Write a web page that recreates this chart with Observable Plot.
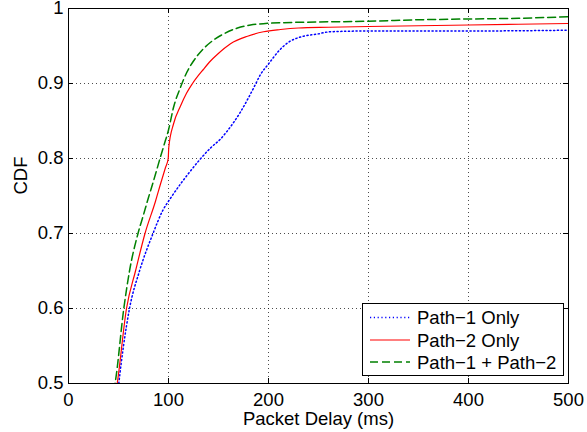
<!DOCTYPE html>
<html>
<head>
<meta charset="utf-8">
<script src="https://cdn.jsdelivr.net/npm/d3@7"></script>
<script src="https://cdn.jsdelivr.net/npm/@observablehq/plot@0.6"></script>
<style>
  body { margin: 0; background: #fff; }
  #wrap { position: relative; width: 587px; height: 432px; font-family: "Liberation Sans", Arial, sans-serif; }
  #legend { position: absolute; left: 362px; top: 303px; width: 202px; height: 73px; border: 1px solid #000; background: #fff; box-sizing: border-box; }
</style>
</head>
<body>
<div id="wrap"></div>
<script>
const seriesNames = ["Path\u22121 Only", "Path\u22122 Only", "Path\u22121 + Path\u22122"];
const seriesColors = ["#0000ff", "#ff0000", "#008000"];
const seriesDash = ["1.2,2.6", null, "8,4"];

const path1X = [49.5, 50.3, 55, 61, 71, 84.5, 94, 102, 112, 120, 131, 142, 152, 164, 172, 180, 187, 192, 200, 210, 220, 232, 249, 262, 300, 400, 500];
const path1Y = [0.49, 0.5, 0.55, 0.6, 0.65, 0.7, 0.73, 0.747, 0.766, 0.78, 0.798, 0.814, 0.826, 0.846, 0.862, 0.881, 0.899, 0.912, 0.926, 0.943, 0.955, 0.962, 0.966, 0.969, 0.970, 0.970, 0.971];

const path2X = [47.5, 48.7, 58, 67, 76.5, 87, 92, 97, 99.7, 100.3, 105, 112, 118, 124, 135, 142, 149, 162, 179, 195, 212, 230, 260, 300, 400, 500];
const path2Y = [0.49, 0.5, 0.6, 0.65, 0.7, 0.743, 0.766, 0.788, 0.8, 0.815, 0.846, 0.870, 0.887, 0.900, 0.919, 0.930, 0.939, 0.953, 0.963, 0.969, 0.972, 0.974, 0.975, 0.976, 0.978, 0.980];

const bothX = [45, 46.5, 55.3, 61, 69.5, 75, 80, 85, 91.5, 96, 100, 105, 112, 118, 125, 134, 144, 155, 169, 182, 197, 212, 250, 300, 350, 400, 450, 500];
const bothY = [0.49, 0.5, 0.6, 0.65, 0.7, 0.725, 0.748, 0.77, 0.8, 0.82, 0.838, 0.868, 0.895, 0.914, 0.93, 0.945, 0.957, 0.966, 0.974, 0.978, 0.980, 0.981, 0.982, 0.983, 0.985, 0.986, 0.987, 0.989];

const xTicks = [0, 100, 200, 300, 400, 500];
const yTicks = [0.5, 0.6, 0.7, 0.8, 0.9, 1];
const xLabel = "Packet Delay (ms)";
const yLabel = "CDF";

const toRows = (xs, ys) => xs.map((x, i) => ({x, y: ys[i]}));
const series = [toRows(path1X, path1Y), toRows(path2X, path2Y), toRows(bothX, bothY)];

const W = 587, H = 432, mL = 68, mR = 19, mT = 8, mB = 49;
const innerW = W - mL - mR, innerH = H - mT - mB;
const tick = 5;
const FS = 18.5;
const FONT = "'Liberation Sans', Arial, sans-serif";

const lineMarks = series.map((rows, i) => Plot.line(rows, {
  x: "x", y: "y", stroke: seriesColors[i], strokeWidth: i === 1 ? 1.2 : 1.5,
  strokeDasharray: seriesDash[i], curve: "monotone-x", clip: true
}));

const chart = Plot.plot({
  width: W, height: H,
  marginLeft: mL, marginRight: mR, marginTop: mT, marginBottom: mB,
  style: {fontFamily: FONT, fontSize: FS + "px", color: "#000", background: "#fff", overflow: "visible"},
  x: {domain: [0, 500]},
  y: {domain: [0.5, 1]},
  marks: [
    Plot.gridX(xTicks, {stroke: "#000", strokeOpacity: 0.7, strokeDasharray: "1,3"}),
    Plot.gridY(yTicks, {stroke: "#000", strokeOpacity: 0.7, strokeDasharray: "1,3"}),
    Plot.tickX(xTicks, {x: d => d, insetTop: innerH - tick, stroke: "#000"}),
    Plot.tickX(xTicks, {x: d => d, insetBottom: innerH - tick, stroke: "#000"}),
    Plot.tickY(yTicks, {y: d => d, insetLeft: innerW - tick, stroke: "#000"}),
    Plot.tickY(yTicks, {y: d => d, insetRight: innerW - tick, stroke: "#000"}),
    Plot.axisX(xTicks, {tickSize: 0, tickPadding: 9, label: null, fontSize: FS}),
    Plot.axisY(yTicks, {tickSize: 0, tickPadding: 5, label: null, fontSize: FS, tickFormat: d => String(d)}),
    ...lineMarks,
    Plot.frame({stroke: "#000"}),
    Plot.text([xLabel], {frameAnchor: "bottom", dy: 36, text: d => d, fontSize: FS, lineAnchor: "middle"}),
    Plot.text([yLabel], {frameAnchor: "left", dx: -47.5, dy: -1.5, text: d => d, rotate: -90, fontSize: FS, lineAnchor: "middle"})
  ]
});

const wrap = document.getElementById("wrap");
wrap.appendChild(chart);

const legend = document.createElement("div");
legend.id = "legend";
wrap.appendChild(legend);
const lsvg = d3.select(legend).append("svg").attr("width", 200).attr("height", 71)
  .style("position", "absolute").style("left", "0").style("top", "0");
const rowsY = [13.5, 36, 58];
seriesNames.forEach((name, i) => {
  lsvg.append("line").attr("x1", 7).attr("x2", 47).attr("y1", rowsY[i]).attr("y2", rowsY[i])
    .attr("stroke", seriesColors[i]).attr("stroke-width", i === 1 ? 1.2 : 1.5)
    .attr("stroke-dasharray", seriesDash[i]);
  lsvg.append("text").attr("x", 54).attr("y", rowsY[i]).attr("dy", "0.36em")
    .attr("font-family", FONT).attr("font-size", FS)
    .text(name);
});
</script>
</body>
</html>
